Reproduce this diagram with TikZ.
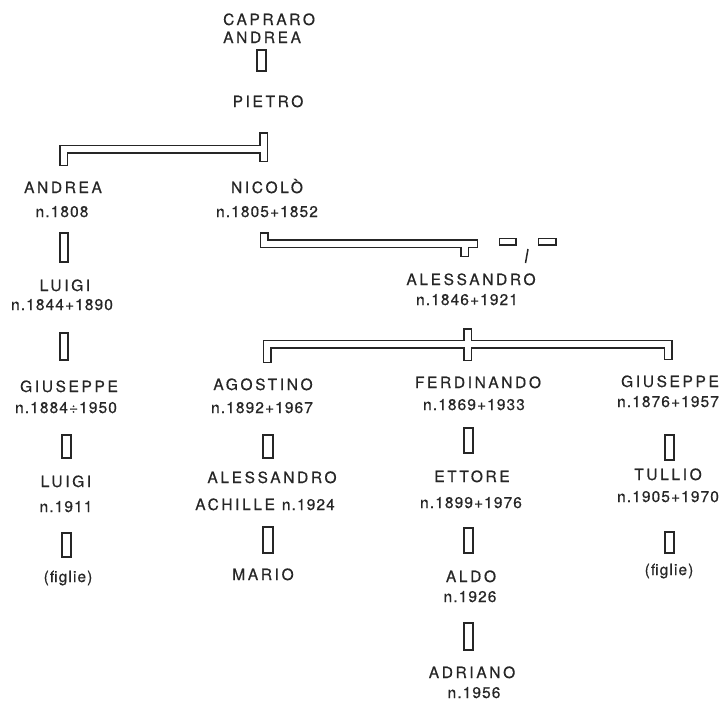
\documentclass[tikz,border=0pt]{standalone}
\usepackage{fontspec}
\setmainfont{TeX Gyre Heros}[LetterSpace=17,FakeBold=0.5]
\newfontfamily\numfont{TeX Gyre Heros}[LetterSpace=7,FakeBold=0.5]
\begin{document}
\begin{tikzpicture}[x=1pt,y=-1pt,
  lbl/.style={inner sep=0pt, anchor=base, font=\fontsize{15.5}{18}\selectfont, text=black!85},
  num/.style={lbl, font=\fontsize{15.5}{18}\numfont},
  sbox/.style={draw=black!85, line width=1.5pt, inner sep=0pt, minimum width=9pt, minimum height=24pt},
  dblout/.style={line width=9pt, line cap=rect, line join=miter, draw=black!85},
  dblin/.style={line width=6pt, line cap=rect, line join=miter, draw=white},
  thin/.style={line width=1.5pt, draw=black!85}]
\useasboundingbox (0,0) rectangle (722,702);
% top
\node[lbl, anchor=base west] (cap1) at (223,25) {CAPRARO};
\node[lbl, anchor=base west] (cap2) at (223,43) {ANDREA};
\node[sbox, minimum height=21pt] (k0) at (261.5,60.5) {};
\node[lbl] (pietro) at (268,107) {PIETRO};
% bracket 1
\coordinate (b1a) at (63.5,161.5);
\coordinate (b1b) at (63.5,149);
\coordinate (b1c) at (263.5,149);
\coordinate (b1t) at (263.5,136.5);
\coordinate (b1d) at (263.5,157.5);
\draw[dblout] (b1a) -- (b1b) -- (b1c) (b1t) -- (b1d);
\draw[dblin] (b1a) -- (b1b) -- (b1c) (b1t) -- (b1d);
% generation 2
\node[lbl] (andrea) at (63,193) {ANDREA};
\node[num] (andread) at (62,217) {n.1808};
\node[lbl] (nicolo) at (267,193) {NICOLÒ};
\node[num] (nicolod) at (267,217) {n.1805+1852};
% bracket 2
\coordinate (b2a) at (264,236.5);
\coordinate (b2b) at (264,243.5);
\coordinate (b2c) at (473.5,243.5);
\coordinate (b2s) at (464.5,243.5);
\coordinate (b2e) at (464.5,252.5);
\draw[dblout] (b2a) -- (b2b) -- (b2c) (b2s) -- (b2e);
\draw[dblin] (b2a) -- (b2b) -- (b2c) (b2s) -- (b2e);
% dashed continuation
\coordinate (d1a) at (502.5,241.5);
\coordinate (d1b) at (512.5,241.5);
\coordinate (d2a) at (541.5,241.5);
\coordinate (d2b) at (552.5,241.5);
\coordinate (s1) at (528,249);
\coordinate (s2) at (525.5,263);
\draw[dblout, line width=8pt] (d1a) -- (d1b) (d2a) -- (d2b);
\draw[dblin, line width=5pt] (d1a) -- (d1b) (d2a) -- (d2b);
\draw[thin] (s1) -- (s2);
\node[lbl] (aless) at (471,285) {ALESSANDRO};
\node[num] (alessd) at (467,305) {n.1846+1921};
% bracket 3
\coordinate (b3a) at (267,358.5);
\coordinate (b3b) at (267,344);
\coordinate (b3c) at (668,344);
\coordinate (b3d) at (668,355.5);
\coordinate (b3t) at (467.5,332.5);
\coordinate (b3u) at (467.5,356.5);
\draw[dblout] (b3a) -- (b3b) -- (b3c) -- (b3d) (b3t) -- (b3u);
\draw[dblin] (b3a) -- (b3b) -- (b3c) -- (b3d) (b3t) -- (b3u);
% left column
\node[sbox, minimum height=29pt, minimum width=8pt] (k1) at (64,247.5) {};
\node[lbl] (luigi1) at (65,291) {LUIGI};
\node[num] (luigi1d) at (62,310) {n.1844+1890};
\node[sbox, minimum height=27pt, minimum width=8pt] (k2) at (64,346.5) {};
\node[lbl] (gius1) at (69,392) {GIUSEPPE};
\node[num] (gius1d) at (66,413) {n.1884÷1950};
\node[sbox, minimum height=23pt] (k3) at (66.5,446.5) {};
\node[lbl] (luigi2) at (66,487) {LUIGI};
\node[num] (luigi2d) at (66,512) {n.1911};
\node[sbox, minimum height=24pt] (k4) at (66.5,545) {};
\node[num] (figlie1) at (68,582) {(figlie)};
% Agostino column
\node[lbl] (agost) at (263,390) {AGOSTINO};
\node[num] (agostd) at (262,413) {n.1892+1967};
\node[sbox, minimum height=23pt, minimum width=10pt] (k5) at (268,446.5) {};
\node[lbl] (aless2) at (272,483) {ALESSANDRO};
\node[lbl] (achille) at (265,510) {ACHILLE {\numfont n.1924}};
\node[sbox, minimum height=26pt, minimum width=10pt] (k6) at (268,540) {};
\node[lbl] (mario) at (263,580) {MARIO};
% Ferdinando column
\node[lbl] (ferd) at (478,388) {FERDINANDO};
\node[num] (ferdd) at (474,410) {n.1869+1933};
\node[sbox, minimum height=25pt] (k7) at (468.5,440.5) {};
\node[lbl] (ettore) at (472,482) {ETTORE};
\node[num] (ettored) at (471,508) {n.1899+1976};
\node[sbox, minimum height=25pt] (k8) at (468.5,540.5) {};
\node[lbl] (aldo) at (471,582) {ALDO};
\node[num] (aldod) at (470,602) {n.1926};
\node[sbox, minimum height=27pt] (k9) at (468.5,636.5) {};
\node[lbl] (adriano) at (472,678) {ADRIANO};
\node[num] (adrianod) at (474,698) {n.1956};
% Giuseppe column
\node[lbl] (gius2) at (670,387) {GIUSEPPE};
\node[num] (gius2d) at (668,407) {n.1876+1957};
\node[sbox, minimum height=25pt] (k10) at (669.5,447.5) {};
\node[lbl] (tullio) at (668,480) {TULLIO};
\node[num] (tulliod) at (668,502) {n.1905+1970};
\node[sbox, minimum height=21pt] (k11) at (669.5,542.5) {};
\node[num] (figlie2) at (669,575) {(figlie)};
\end{tikzpicture}
\end{document}
